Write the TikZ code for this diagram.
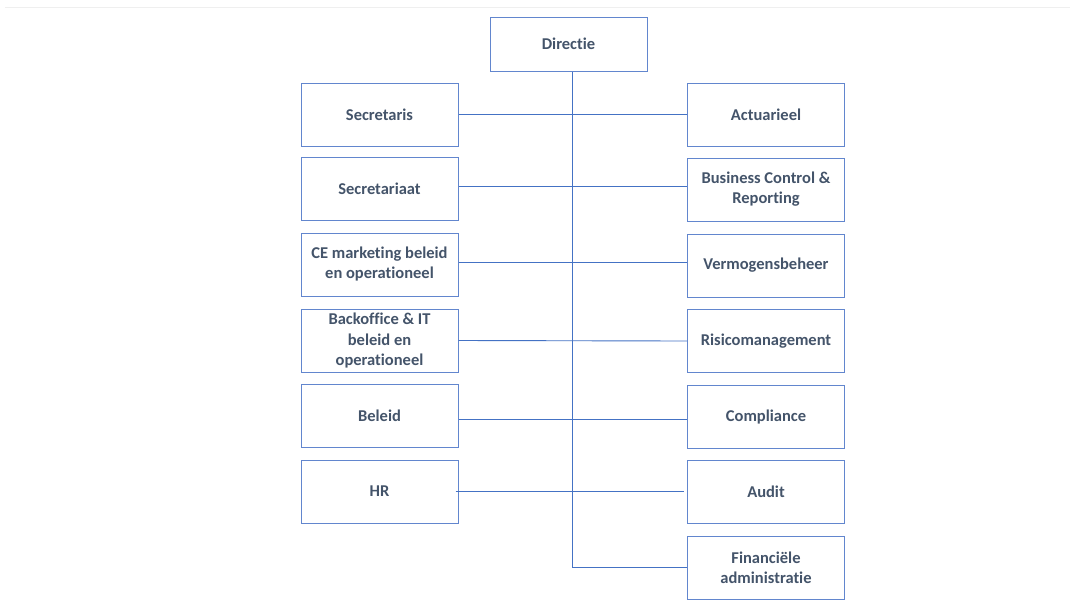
\documentclass[tikz,border=0pt]{standalone}
\usepackage{fontspec}
\setmainfont{Carlito}[Ligatures=NoCommon]
\definecolor{boxblue}{HTML}{6286CE}
\definecolor{linkblue}{HTML}{4472C4}
\definecolor{labelslate}{HTML}{44546A}
\definecolor{rulegray}{HTML}{EFEFEF}
\begin{document}
\begin{tikzpicture}[x=1pt,y=-1pt,
  unit/.style={draw=boxblue, line width=1pt, fill=white,
    minimum width=157pt, minimum height=63pt, inner sep=2pt,
    align=center, text=labelslate,
    font=\fontsize{16.5}{20}\selectfont\bfseries},
  link/.style={draw=linkblue, line width=0.9pt}]
\useasboundingbox (0,0) rectangle (1070,603);
\fill[white] (0,0) rectangle (1070,603);
% thin rule along the top edge
\draw[rulegray, line width=1pt] (5,7) -- (1070,7);

% head of the organisation
\node[unit, minimum height=54pt] (dir) at (568.5,44) {Directie};

% left column
\node[unit] (secr)  at (379.5,114.5) {Secretaris};
\node[unit] (secrt) at (379.5,189)   {Secretariaat};
\node[unit] (ce)    at (379.5,264.5) {CE marketing beleid\\en operationeel};
\node[unit] (bo)    at (379.5,340.5) {Backoffice \& IT\\beleid en\\operationeel};
\node[unit] (bel)   at (379.5,416)   {Beleid};
\node[unit] (hr)    at (379.5,491.5) {HR};

% right column
\node[unit] (act)   at (766,114.5)   {Actuarieel};
\node[unit] (bcr)   at (766,189.5)   {Business Control \&\\Reporting};
\node[unit] (verm)  at (766,265.5)   {Vermogensbeheer};
\node[unit] (risk)  at (766,341)     {Risicomanagement};
\node[unit] (comp)  at (766,416.5)   {Compliance};
\node[unit] (aud)   at (766,491.5)   {Audit};
\node[unit] (fin)   at (766,567.5)   {Financiële\\administratie};

% trunk from the head down to the last unit
\draw[link] ([xshift=3.5pt]dir.south) |- (fin.west);

% branches joining each pair of units across the trunk
\draw[link] (secr.east)  -- (act.west);
\draw[link] ([yshift=3pt]secrt.east) -- ([yshift=3.5pt]bcr.west);
\draw[link] ([yshift=2pt]ce.east)    -- ([yshift=3pt]verm.west);
\draw[link] (bo.east)    -- (risk.west);
\draw[link] ([yshift=-3pt]bel.east)  -- ([yshift=-2.5pt]comp.west);
\draw[link] ([xshift=-3pt]hr.east)   -- ([xshift=-3pt]aud.west);
\end{tikzpicture}
\end{document}
